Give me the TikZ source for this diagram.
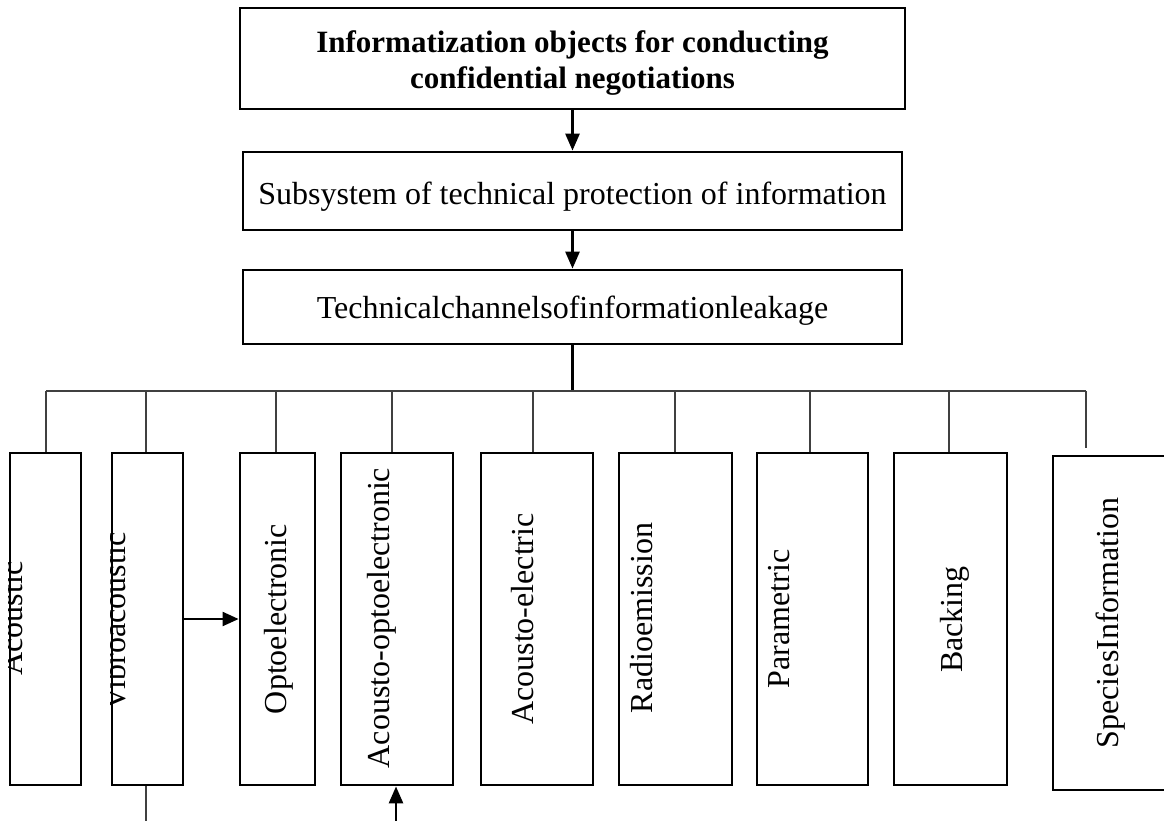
\documentclass[tikz,border=0pt]{standalone}
\usepackage{fontspec}
\setmainfont{Liberation Serif}
\usetikzlibrary{arrows.meta}
\begin{document}
\begin{tikzpicture}[x=1pt,y=-1pt,
  frame/.style={draw=black, line width=2.8pt, inner sep=0pt, rectangle},
  heading/.style={frame, font=\fontsize{31}{36}\selectfont\bfseries, align=center},
  level/.style={frame, font=\fontsize{32}{38}\selectfont},
  chanbox/.style={frame, minimum height=332pt},
  chantext/.style={rotate=90, anchor=base, inner sep=0pt, font=\fontsize{32}{38}\selectfont},
  flow/.style={line width=2.7pt, -{Triangle[length=17pt,width=14pt]}},
  sideflow/.style={line width=2.1pt, -{Triangle[length=16pt,width=14pt]}},
  trunk/.style={line width=2.9pt},
  branch/.style={draw=black!75, line width=1.1pt},
]
\clip (0,0) rectangle (1164,820);

% upper chain of blocks
\node[heading, minimum width=665pt, minimum height=101pt, text height=60pt, text depth=1pt]
  (objects) at (572.5,58.5) {Informatization objects for conducting\\confidential negotiations};
\node[level, minimum width=659pt, minimum height=78pt, text height=27pt, text depth=1pt]
  (subsys) at (572.5,191) {Subsystem of technical protection of information};
\node[level, minimum width=659pt, minimum height=74pt, text height=24pt, text depth=2pt]
  (leak) at (572.5,307) {Technicalchannelsofinformationleakage};

\draw[flow] (objects.south) -- (subsys.north);
\draw[flow] (subsys.south) -- (leak.north);

% channel blocks
\node[chanbox, minimum width=71pt]  (acoustic) at (45.5,619) {};
\node[chanbox, minimum width=71pt]  (vibro)    at (147.5,619) {};
\node[chanbox, minimum width=75pt]  (opto)     at (277.5,619) {};
\node[chanbox, minimum width=112pt] (acopto)   at (397,619) {};
\node[chanbox, minimum width=112pt] (acelec)   at (537,619) {};
\node[chanbox, minimum width=113pt] (radio)    at (675.5,619) {};
\node[chanbox, minimum width=111pt] (param)    at (812.5,619) {};
\node[chanbox, minimum width=113pt] (backing)  at (950.5,619) {};
\node[frame, minimum width=124pt, minimum height=334pt] (species) at (1115,623) {};

% channel names
\begin{scope}
  \clip (acoustic.north west) rectangle (acoustic.south east);
  \node[chantext] (acoustic-t) at (22.5,618.5) {Acoustic};
\end{scope}
\begin{scope}
  \clip (vibro.north west) rectangle (vibro.south east);
  \node[chantext] (vibro-t) at (125,621.5) {Vibroacoustic};
\end{scope}
\node[chantext] (opto-t)    at (286,619)   {Optoelectronic};
\node[chantext] (acopto-t)  at (389,618)   {Acousto-optoelectronic};
\node[chantext] (acelec-t)  at (533,619)   {Acousto-electric};
\node[chantext] (radio-t)   at (652,618)   {Radioemission};
\node[chantext] (param-t)   at (789,619)   {Parametric};
\node[chantext] (backing-t) at (962,619.5) {Backing};
\node[chantext] (species-t) at (1118,623)  {SpeciesInformation};

% distribution bus
\coordinate (bacoustic) at (46,391);
\coordinate (bspecies)  at (1086,391);
\coordinate (species-gap) at (1086,448);
\draw[trunk] (leak.south) -- (leak.south |- bacoustic);
\draw[branch] (bacoustic) -- (bspecies);
\draw[branch] (bacoustic) -- (bacoustic |- acoustic.north);
\foreach \x/\n in {146/vibro, 276/opto, 392/acopto, 533/acelec, 675/radio, 810/param, 949/backing}{
  \coordinate (b\n) at (\x,391);
  \draw[branch] (b\n) -- (b\n |- \n.north);
}
\draw[branch] (bspecies) -- (species-gap);

% cross links between channels
\draw[sideflow] (vibro.east) -- (opto.west);
\coordinate (vibro-tail) at (146,824);
\draw[branch] (vibro-tail |- vibro.south) -- (vibro-tail);
\coordinate (acopto-src) at (396,824);
\draw[flow] (acopto-src) -- (acopto-src |- acopto.south);
\end{tikzpicture}
\end{document}
